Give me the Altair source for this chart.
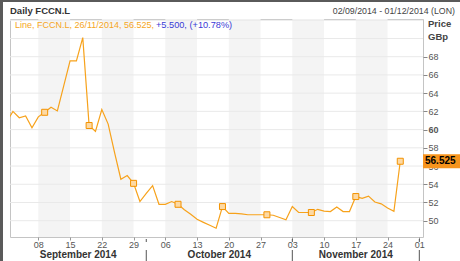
import altair as alt
import pandas as pd

# ---------------- data ----------------
dates = pd.bdate_range("2014-09-01", "2014-11-26")
prices = [60.8, 62.0, 61.3, 61.5, 60.2, 61.4, 61.9, 62.45, 62.05, 64.8,
          67.55, 67.55, 70.1, 60.45, 59.8, 62.2, 60.6, 57.5, 54.55, 54.95,
          54.1, 52.1, 53.0, 53.85, 51.8, 51.8, 52.1, 51.8, 51.2, 50.7,
          50.15, 49.82, 49.5, 49.17, 51.55, 50.8, 50.8, 50.75, 50.65, 50.65,
          50.65, 50.65, 50.6, 50.35, 50.1, 51.55, 50.9, 50.9, 50.9, 51.25,
          51.05, 51.0, 51.5, 51.0, 51.0, 52.65, 52.45, 52.7, 52.05, 51.85,
          51.4, 51.025, 56.525]
marker_idx = [6, 13, 20, 27, 34, 41, 48, 55, 62]
tick_idx = [5, 10, 15, 20, 25, 30, 35, 40, 45, 50, 55, 60, 65]
tick_labels = ["08", "15", "22", "29", "06", "13", "20", "27", "03", "10", "17", "24", "01"]
band_start = [5, 15, 25, 35, 45, 55]
band_end = [10, 20, 30, 40, 50, 60]
month_names = ["September 2014", "October 2014", "November 2014"]
month_start = [0, 22, 45, 65]
y_ticks = [50, 52, 54, 56, 58, 60, 62, 64, 66, 68]
grid_vals = [50, 52, 54, 56, 58, 60, 62, 64, 66, 68, 70, 72]
last_label = "56.525"

XMIN, XMAX = 0.54, 65.58
YMIN, YMAX = 48.21, 72.14
W, H = 413, 218

FONT = "Liberation Sans"
ORANGE = "#f7a21b"

df = pd.DataFrame({"i": list(range(len(prices))), "p": prices})
mk = df[df.i.isin(marker_idx)]
last = df.tail(1).assign(t=last_label)
bands = pd.DataFrame({"s": band_start, "e": band_end})
grid = pd.DataFrame({"v": grid_vals})
mcent = []
for k, name in enumerate(month_names):
    a = max(month_start[k], XMIN)
    b = min(month_start[k + 1], XMAX)
    mcent.append((a + b) / 2)
months = pd.DataFrame({"m": month_names, "c": mcent})
seps = pd.DataFrame({"s": month_start[1:]})

xs = alt.Scale(domain=[XMIN, XMAX], nice=False, zero=False)
ys = alt.Scale(domain=[YMIN, YMAX], nice=False, zero=False)

label_expr = "[" + ",".join("'%s'" % t for t in tick_labels) + "][indexof([" + \
    ",".join(str(v) for v in tick_idx) + "], datum.value)]"

# the tick hidden behind the last-value box is left out
shown_y = [v for v in y_ticks if v != int(round(prices[-1]))]

x_axis = alt.Axis(values=tick_idx, labelExpr=label_expr, title=None, grid=False,
                  domain=False, tickSize=3, tickColor="#999", labelColor="#555",
                  labelFontSize=9, labelPadding=0, labelFlush=False, labelFont=FONT)
y_axis = alt.Axis(values=shown_y, orient="right", title=None, grid=False, domain=False,
                  tickSize=4, tickColor="#888", labelColor="#555", labelFontSize=9,
                  labelPadding=1, labelFont=FONT, format="d",
                  labelFontWeight={"condition": {"test": "datum.value == 60", "value": "bold"},
                                   "value": "normal"})

X = lambda f: alt.X(f, scale=xs, axis=x_axis)
Y = lambda f: alt.Y(f, scale=ys, axis=y_axis)

band_layer = alt.Chart(bands).mark_rect(color="#f4f4f4").encode(
    x=X("s:Q"), x2="e:Q", y=alt.value(0), y2=alt.value(H))

grid_layer = alt.Chart(grid).mark_rule(color="#e9e9e9", strokeWidth=1).encode(
    y=Y("v:Q"))

line_layer = alt.Chart(df).mark_line(color=ORANGE, strokeWidth=1.2, clip=True).encode(
    x=X("i:Q"), y=Y("p:Q"))

marker_layer = alt.Chart(mk).mark_point(shape="square", filled=True, fill="#fdd9a3",
                                        stroke="#f39200", strokeWidth=1, size=36,
                                        opacity=1).encode(
    x=X("i:Q"), y=Y("p:Q"))

box_layer = alt.Chart(last).mark_rect(color="#f7941d", yOffset=-7, y2Offset=7).encode(
    x=alt.value(W), x2=alt.value(W + 37), y=Y("p:Q"), y2="p:Q")

box_text = alt.Chart(last).mark_text(align="left", baseline="middle", font=FONT,
                                     fontSize=10, fontWeight="bold", color="#000").encode(
    x=alt.value(W + 2), y=Y("p:Q"), text="t:N")

month_text = alt.Chart(months).mark_text(baseline="alphabetic", font=FONT, fontSize=10,
                                         fontWeight="bold", color="#333").encode(
    x=X("c:Q"), y=alt.value(H + 21), text="m:N")

sep_top = alt.Chart(seps).mark_rule(color="#555").encode(
    x=X("s:Q"), y=alt.value(H + 2), y2=alt.value(H + 5))
sep_bot = alt.Chart(seps).mark_rule(color="#555").encode(
    x=X("s:Q"), y=alt.value(H + 13), y2=alt.value(H + 24))


def txt(s, x, y, align="left", color="#333", weight="normal", size=9):
    return alt.Chart(pd.DataFrame({"t": [s]})).mark_text(
        align=align, baseline="middle", font=FONT, fontSize=size,
        fontWeight=weight, color=color).encode(
        x=alt.value(x), y=alt.value(y), text="t:N")


frame = pd.DataFrame({"a": [0]})
frame_left = alt.Chart(frame).mark_rule(color="#5a5a5a", strokeWidth=3).encode(
    x=alt.value(-8.5), y=alt.value(-19), y2=alt.value(H + 24))
frame_top = alt.Chart(frame).mark_rule(color="#5a5a5a", strokeWidth=2).encode(
    x=alt.value(-10), x2=alt.value(W + 37), y=alt.value(-18))

title_l = txt("Daily FCCN.L", 0, -8, weight="bold", color="#333", size=9.5)
title_r = txt("02/09/2014 - 01/12/2014 (LON)", 445, -8, align="right", color="#444", size=8.8)
leg_o = txt("Line, FCCN.L, 26/11/2014, 56.525,", 5, 6, color="#f5a623", size=9)
leg_b = txt("+5.500, (+10.78%)", 146, 6, color="#3a3ad6", size=9.2)
price_t = txt("Price", W + 5, 5, weight="bold", color="#444", size=9.5)
gbp_t = txt("GBp", W + 5, 18, weight="bold", color="#444", size=9.5)

chart = alt.layer(
    band_layer, grid_layer, line_layer, marker_layer, box_layer, box_text,
    month_text, sep_top, sep_bot, frame_left, frame_top,
    title_l, title_r, leg_o, leg_b, price_t, gbp_t
).properties(
    width=W, height=H,
    padding={"left": 10, "top": 19, "right": 37, "bottom": 24},
    autosize="none", background="white"
).configure_view(stroke="#c4c4c4", strokeWidth=1)

chart.save("out.html", embed_options={"renderer": "svg", "actions": False})
